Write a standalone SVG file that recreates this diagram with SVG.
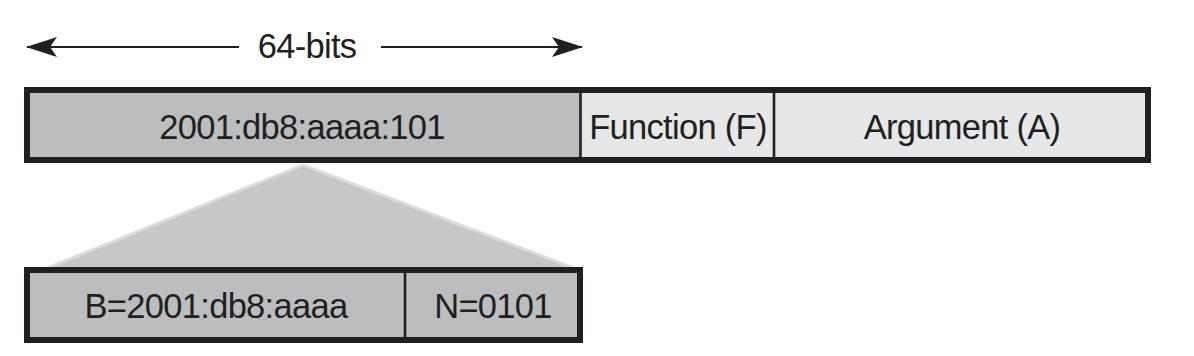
<svg xmlns="http://www.w3.org/2000/svg" width="1194" height="356" viewBox="0 0 1194 356">
<style>
.t{font-family:"Liberation Sans",Arial,sans-serif;font-size:34.5px;letter-spacing:-0.7px;fill:#231f20;text-anchor:middle}
.box{stroke:#231f20;stroke-width:6}
.div{stroke:#231f20;stroke-width:2.6}
.dark{fill:#bcbdbf}
.light{fill:#e6e7e8}
.arr{stroke:#231f20;stroke-width:2.2;fill:none}
</style>
<defs>
<marker id="ah" markerWidth="32" markerHeight="20" viewBox="0 0 32 20" refX="30" refY="10" orient="auto-start-reverse" markerUnits="userSpaceOnUse">
<path d="M0,0 L31,10 L0,20 L7,10 Z" fill="#231f20"/>
</marker>
</defs>
<rect width="1194" height="356" fill="#ffffff"/>
<g id="connectors">
<line class="arr" x1="27" y1="47" x2="239" y2="47" marker-start="url(#ah)"/>
<line class="arr" x1="381" y1="47" x2="582" y2="47" marker-end="url(#ah)"/>
<polygon points="303,165 45,269 576,269" fill="#c6c7c8" stroke="#dadbdc" stroke-width="3" stroke-linejoin="round"/>
</g>
<g id="label-64bits">
<text class="t" x="307" y="58">64-bits</text>
</g>
<g id="top-bar">
<rect class="dark" x="27" y="90" width="553.5" height="70"/>
<rect class="light" x="580.5" y="90" width="567.5" height="70"/>
<rect class="box" x="27" y="90" width="1121" height="70" fill="none"/>
<line class="div" x1="580.5" y1="90" x2="580.5" y2="160"/>
<line class="div" x1="774" y1="90" x2="774" y2="160"/>
</g>
<g id="prefix">
<text class="t" x="302" y="139">2001:db8:aaaa:101</text>
</g>
<g id="function">
<text class="t" x="678" y="139">Function (F)</text>
</g>
<g id="argument">
<text class="t" x="962" y="139">Argument (A)</text>
</g>
<g id="bottom-bar">
<rect class="dark box" x="27" y="270" width="553" height="70"/>
<line class="div" x1="405" y1="270" x2="405" y2="340"/>
</g>
<g id="locator">
<text class="t" x="216" y="318">B=2001:db8:aaaa</text>
</g>
<g id="node-id">
<text class="t" x="493" y="318">N=0101</text>
</g>
</svg>
